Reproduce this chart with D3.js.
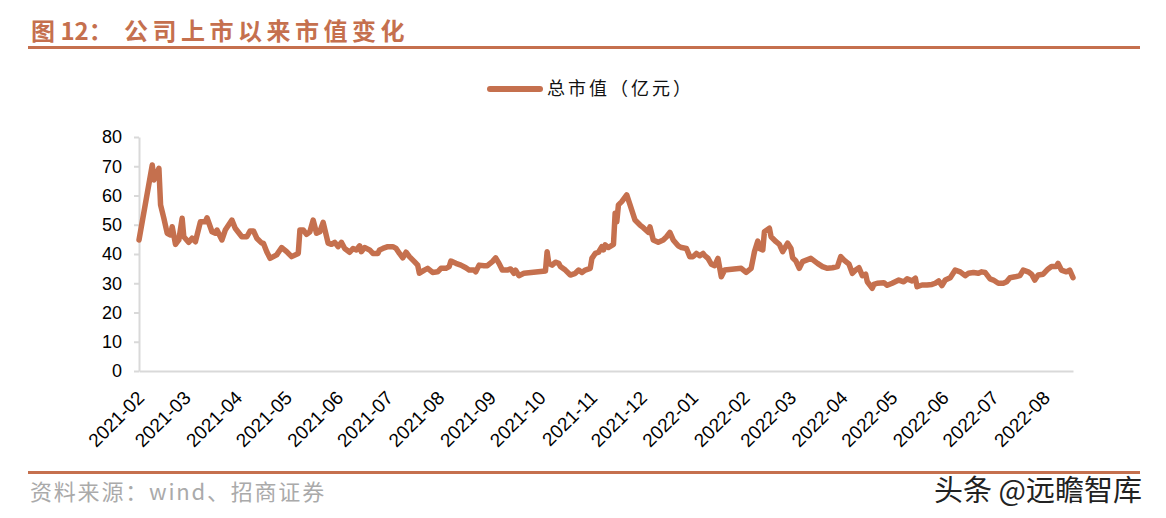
<!DOCTYPE html>
<html><head><meta charset="utf-8">
<script src="https://cdn.jsdelivr.net/npm/d3@7/dist/d3.min.js"></script>
<style>
html,body{margin:0;padding:0;background:#fff;}
svg{display:block;}
</style></head>
<body>
<svg id="chart" width="1166" height="518"></svg>
<script>
const seriesName = "总市值（亿元）";
const dates = [
"2021-02-09","2021-02-17","2021-02-18","2021-02-21","2021-02-22","2021-02-24","2021-02-26","2021-02-28",
"2021-03-01","2021-03-03","2021-03-05","2021-03-07","2021-03-08","2021-03-11","2021-03-13","2021-03-15","2021-03-18","2021-03-21","2021-03-22","2021-03-25","2021-03-27","2021-03-28","2021-03-31",
"2021-04-02","2021-04-06","2021-04-08","2021-04-12","2021-04-15","2021-04-17","2021-04-19","2021-04-21","2021-04-24","2021-04-25","2021-04-27","2021-04-29",
"2021-05-03","2021-05-06","2021-05-09","2021-05-12","2021-05-16","2021-05-17","2021-05-19","2021-05-21","2021-05-23","2021-05-25","2021-05-27","2021-05-29","2021-05-31",
"2021-06-03","2021-06-05","2021-06-07","2021-06-09","2021-06-11","2021-06-13","2021-06-16","2021-06-18","2021-06-20","2021-06-22","2021-06-23","2021-06-25","2021-06-28","2021-06-30",
"2021-07-03","2021-07-04","2021-07-06","2021-07-09","2021-07-12","2021-07-14","2021-07-16","2021-07-18","2021-07-20","2021-07-22","2021-07-25","2021-07-27","2021-07-28","2021-07-31",
"2021-08-02","2021-08-05","2021-08-08","2021-08-10","2021-08-13","2021-08-15","2021-08-16","2021-08-19","2021-08-22","2021-08-25","2021-08-27","2021-08-30","2021-08-31",
"2021-09-02","2021-09-05","2021-09-07","2021-09-10","2021-09-12","2021-09-14","2021-09-16","2021-09-19","2021-09-21","2021-09-23","2021-09-24","2021-09-26","2021-09-29",
"2021-10-12","2021-10-13","2021-10-14","2021-10-16","2021-10-18","2021-10-20","2021-10-21","2021-10-24","2021-10-27","2021-10-30",
"2021-11-01","2021-11-03","2021-11-05","2021-11-08","2021-11-09","2021-11-11","2021-11-13","2021-11-15","2021-11-16","2021-11-17","2021-11-19","2021-11-22","2021-11-23","2021-11-24","2021-11-25","2021-11-27","2021-11-30",
"2021-12-02","2021-12-05","2021-12-08","2021-12-10","2021-12-13","2021-12-14","2021-12-16","2021-12-19","2021-12-22","2021-12-24","2021-12-26","2021-12-28","2021-12-31",
"2022-01-02","2022-01-05","2022-01-07","2022-01-09","2022-01-11","2022-01-13","2022-01-15","2022-01-16","2022-01-18","2022-01-20","2022-01-22","2022-01-24","2022-01-26","2022-01-28",
"2022-02-07","2022-02-10","2022-02-13","2022-02-15","2022-02-17","2022-02-18","2022-02-20","2022-02-21","2022-02-24","2022-02-25","2022-02-28",
"2022-03-02","2022-03-04","2022-03-07","2022-03-09","2022-03-10","2022-03-12","2022-03-14","2022-03-16","2022-03-21","2022-03-25","2022-03-28","2022-03-31",
"2022-04-03","2022-04-06","2022-04-08","2022-04-10","2022-04-13","2022-04-15","2022-04-17","2022-04-19","2022-04-21","2022-04-23","2022-04-24","2022-04-27","2022-04-28","2022-04-30",
"2022-05-04","2022-05-06","2022-05-09","2022-05-13","2022-05-16","2022-05-18","2022-05-21","2022-05-23","2022-05-24","2022-05-27","2022-05-30",
"2022-06-02","2022-06-04","2022-06-06","2022-06-08","2022-06-10","2022-06-13","2022-06-16","2022-06-19","2022-06-22","2022-06-24","2022-06-27","2022-06-30",
"2022-07-02","2022-07-04","2022-07-07","2022-07-09","2022-07-12","2022-07-15","2022-07-17","2022-07-19","2022-07-22","2022-07-25","2022-07-27","2022-07-30",
"2022-08-01","2022-08-03","2022-08-05","2022-08-08","2022-08-11","2022-08-13","2022-08-16","2022-08-17","2022-08-19","2022-08-22","2022-08-24","2022-08-26"
];
const values = [
44.8,70.4,65.3,69.3,56.8,52.2,47.1,46.5,
49.3,43.3,44.8,52.2,45.9,44.0,45.4,44.2,51.0,51.0,52.4,47.6,47.1,48.2,44.8,
48.2,51.6,48.8,45.9,45.9,47.9,47.9,45.4,43.7,43.7,40.8,38.5,
39.7,42.2,40.8,39.1,40.2,48.2,48.2,46.7,47.6,51.6,47.1,47.6,50.8,
43.7,43.3,44.0,42.5,44.0,41.9,40.6,41.9,41.4,42.8,40.8,42.2,41.4,40.2,
40.2,41.4,41.9,42.5,42.5,41.9,40.2,38.7,40.6,39.1,37.4,36.2,33.4,34.5,
35.1,33.7,33.9,35.1,35.1,35.7,37.6,36.8,36.2,35.3,34.5,34.5,33.9,
36.2,36.0,36.0,37.4,38.7,36.8,34.5,34.5,34.9,33.4,34.5,32.6,33.4,
34.2,40.8,36.8,36.2,37.2,36.8,35.7,34.5,32.8,33.4,
34.5,33.7,34.5,35.1,38.5,40.2,40.6,42.5,41.4,43.1,42.2,43.3,53.9,51.0,56.8,57.9,60.2,
56.8,51.6,49.9,49.0,47.4,49.3,44.8,44.0,44.8,45.9,47.4,44.8,42.8,
42.2,41.9,39.1,39.1,40.2,39.4,40.2,39.5,38.5,36.5,36.0,38.5,32.2,34.5,
35.1,33.7,35.1,40.8,44.4,41.9,41.4,47.6,48.8,45.9,44.2,
43.3,40.8,43.7,41.9,38.7,37.6,35.1,37.4,38.5,36.8,35.7,35.1,
35.3,35.7,39.1,37.9,36.5,33.4,34.5,35.3,32.6,33.1,30.5,28.3,29.6,30.0,
30.2,29.3,30.0,31.1,30.5,31.5,30.8,31.7,28.8,29.4,29.4,
29.6,30.0,30.8,29.2,31.1,31.9,34.5,33.9,32.6,33.4,33.7,33.4,
33.9,33.7,31.5,31.1,30.0,30.0,30.5,31.9,32.2,32.6,34.5,33.9,
33.1,31.1,32.8,33.1,34.9,35.7,35.7,36.8,34.5,33.9,34.5,31.9
];
const xDomain = ["2021-02-09","2022-08-26"];
const xTickDates = ["2021-02-09","2021-03-09","2021-04-09","2021-05-09","2021-06-09","2021-07-09","2021-08-09","2021-09-09","2021-10-09","2021-11-09","2021-12-09","2022-01-09","2022-02-09","2022-03-09","2022-04-09","2022-05-09","2022-06-09","2022-07-09","2022-08-09"];
const yTicks = [0,10,20,30,40,50,60,70,80];
const titleText = ["图 12：", "公司上市以来市值变化"];
const sourceText = "资料来源：wind、招商证券";
const watermark = "头条 @远瞻智库";

const parse = d3.timeParse("%Y-%m-%d");
const fmt = d3.timeFormat("%Y-%m");
const data = dates.map((d,i)=>({date:parse(d), value:values[i]}));

const accent = "#C5704E";
const svg = d3.select("#chart");
const cjk = "'Noto Sans CJK SC','Noto Sans',sans-serif";
const latin = "'Liberation Sans',Arial,sans-serif";

// Title
const t = svg.append("text").attr("y", 40).attr("fill", accent)
  .attr("font-family", cjk).attr("font-weight", "bold").attr("font-size", 24);
t.append("tspan").attr("x", 31).text(titleText[0]);
t.append("tspan").attr("x", 124).attr("letter-spacing", 4.5).text(titleText[1]);
svg.append("rect").attr("x", 28).attr("y", 46).attr("width", 1112).attr("height", 3).attr("fill", accent);

// Scales
const x = d3.scaleTime().domain(xDomain.map(parse)).range([139, 1073]);
const y = d3.scaleLinear().domain([0, 80]).range([371, 137]);

// Y axis
const ya = svg.append("g").attr("transform", "translate(139,0)")
  .call(d3.axisLeft(y).tickValues(yTicks).tickSize(5).tickPadding(12).tickSizeOuter(0));
ya.select(".domain").attr("stroke", "#d9d9d9").attr("stroke-width", 2);
ya.selectAll(".tick line").attr("stroke", "#d9d9d9").attr("stroke-width", 2);
ya.selectAll(".tick text").attr("font-family", latin).attr("font-size", 18).attr("fill", "#000");

// X axis
const xa = svg.append("g").attr("transform", "translate(0,371)")
  .call(d3.axisBottom(x).tickValues(xTickDates.map(parse)).tickFormat(fmt).tickSize(0).tickSizeOuter(0));
xa.select(".domain").attr("stroke", "#d9d9d9").attr("stroke-width", 2);
xa.selectAll(".tick text")
  .attr("font-family", latin).attr("font-size", 19).attr("fill", "#000")
  .attr("text-anchor", "end").attr("dy", null).attr("y", 0)
  .attr("transform", "translate(6,28) rotate(-45)");

// Line
const line = d3.line().x(d=>x(d.date)).y(d=>y(d.value));
svg.append("path").datum(data).attr("d", line)
  .attr("fill", "none").attr("stroke", accent).attr("stroke-width", 5.5)
  .attr("stroke-linejoin", "round").attr("stroke-linecap", "round");

// Legend
svg.append("line").attr("x1", 490).attr("x2", 540).attr("y1", 89).attr("y2", 89)
  .attr("stroke", accent).attr("stroke-width", 6).attr("stroke-linecap", "round");
svg.append("text").attr("x", 547).attr("y", 95).attr("font-family", cjk)
  .attr("font-size", 18).attr("letter-spacing", 3).attr("fill", "#111").text(seriesName);

// Footer
svg.append("rect").attr("x", 28).attr("y", 471).attr("width", 1112).attr("height", 3).attr("fill", accent);
svg.append("text").attr("x", 30).attr("y", 500).attr("font-family", cjk)
  .attr("font-size", 22).attr("letter-spacing", 1.8).attr("fill", "#aaaaaa").text(sourceText);
svg.append("text").attr("x", 934).attr("y", 501).attr("font-family", cjk)
  .attr("font-size", 29).attr("fill", "#222").attr("stroke", "#fff").attr("stroke-width", 0.6)
  .attr("paint-order", "stroke").text(watermark);
</script>
</body></html>
